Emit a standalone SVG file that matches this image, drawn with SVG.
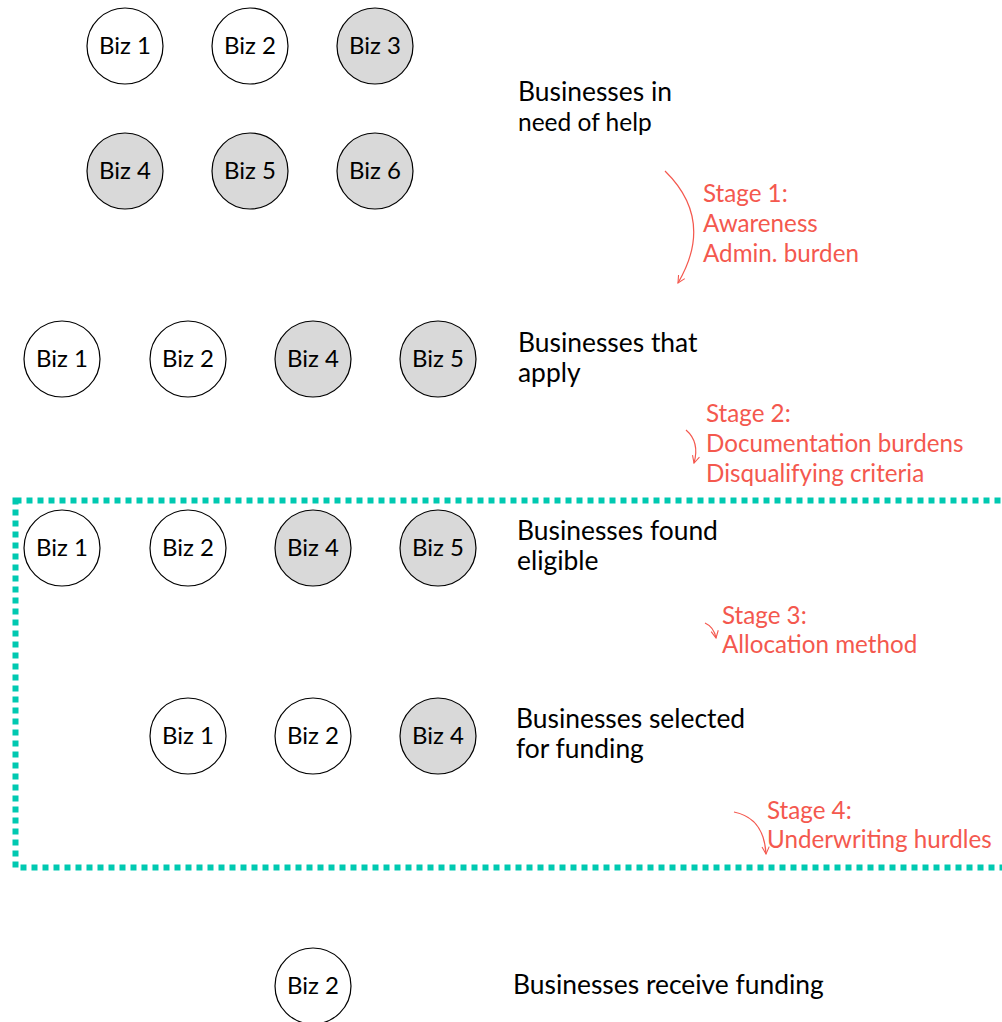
<svg xmlns="http://www.w3.org/2000/svg" width="1002" height="1022" viewBox="0 0 1002 1022">
<style>
.n circle{stroke:#000;stroke-width:1.2}
.w{fill:#fff}
.g{fill:#d9d9d9}
.n text{font-family:Lato,"Noto Sans",sans-serif;font-size:24px;fill:#000;text-anchor:middle}
.lbl{font-family:Lato,"Noto Sans",sans-serif;font-size:26.4px;fill:#000}
.st{font-family:Lato,"Noto Sans",sans-serif;font-size:24.2px;fill:#f4584e}
.arr{fill:none;stroke:#f4584e;stroke-width:1.2;marker-end:url(#ah)}
</style>
<defs>
<marker id="ah" viewBox="0 0 10 10" refX="9" refY="5" markerWidth="9" markerHeight="9" markerUnits="userSpaceOnUse" orient="auto">
<path d="M1,1 L9,5 L1,9" fill="none" stroke="#f4584e" stroke-width="1.2"/>
</marker>
</defs>
<rect width="1002" height="1022" fill="#fff"/>
<g id="box">
<rect x="15.5" y="500.5" width="1010" height="367" fill="none" stroke="#00c9b1" stroke-width="6" stroke-dasharray="6 5"/>
</g>
<g id="row1">
<g id="r1b1" class="n"><circle class="w" cx="125" cy="46" r="38"/><text x="125" y="54">Biz 1</text></g>
<g id="r1b2" class="n"><circle class="w" cx="250" cy="46" r="38"/><text x="250" y="54">Biz 2</text></g>
<g id="r1b3" class="n"><circle class="g" cx="375" cy="46" r="38"/><text x="375" y="54">Biz 3</text></g>
<g id="r1b4" class="n"><circle class="g" cx="125" cy="171" r="38"/><text x="125" y="179">Biz 4</text></g>
<g id="r1b5" class="n"><circle class="g" cx="250" cy="171" r="38"/><text x="250" y="179">Biz 5</text></g>
<g id="r1b6" class="n"><circle class="g" cx="375" cy="171" r="38"/><text x="375" y="179">Biz 6</text></g>
</g>
<g id="row2">
<g id="r2b1" class="n"><circle class="w" cx="62" cy="359" r="38"/><text x="62" y="367">Biz 1</text></g>
<g id="r2b2" class="n"><circle class="w" cx="188" cy="359" r="38"/><text x="188" y="367">Biz 2</text></g>
<g id="r2b4" class="n"><circle class="g" cx="313" cy="359" r="38"/><text x="313" y="367">Biz 4</text></g>
<g id="r2b5" class="n"><circle class="g" cx="438" cy="359" r="38"/><text x="438" y="367">Biz 5</text></g>
</g>
<g id="row3">
<g id="r3b1" class="n"><circle class="w" cx="62" cy="548" r="38"/><text x="62" y="556">Biz 1</text></g>
<g id="r3b2" class="n"><circle class="w" cx="188" cy="548" r="38"/><text x="188" y="556">Biz 2</text></g>
<g id="r3b4" class="n"><circle class="g" cx="313" cy="548" r="38"/><text x="313" y="556">Biz 4</text></g>
<g id="r3b5" class="n"><circle class="g" cx="438" cy="548" r="38"/><text x="438" y="556">Biz 5</text></g>
</g>
<g id="row4">
<g id="r4b1" class="n"><circle class="w" cx="188" cy="736" r="38"/><text x="188" y="744">Biz 1</text></g>
<g id="r4b2" class="n"><circle class="w" cx="313" cy="736" r="38"/><text x="313" y="744">Biz 2</text></g>
<g id="r4b4" class="n"><circle class="g" cx="438" cy="736" r="38"/><text x="438" y="744">Biz 4</text></g>
</g>
<g id="row5">
<g id="r5b2" class="n"><circle class="w" cx="313" cy="986" r="38"/><text x="313" y="994">Biz 2</text></g>
</g>
<g id="labels">
<text class="lbl" x="518" y="101">Businesses in</text>
<text class="lbl" x="518" y="131" style="font-size:24.5px">need of help</text>
<text class="lbl" x="518" y="352">Businesses that</text>
<text class="lbl" x="518" y="382">apply</text>
<text class="lbl" x="517" y="540">Businesses found</text>
<text class="lbl" x="517" y="570">eligible</text>
<text class="lbl" x="516" y="728">Businesses selected</text>
<text class="lbl" x="516" y="758">for funding</text>
<text class="lbl" x="513" y="994">Businesses receive funding</text>
</g>
<g id="stages">
<text class="st" x="703" y="202">Stage 1:</text>
<text class="st" x="703" y="232">Awareness</text>
<text class="st" x="703" y="262">Admin. burden</text>
<text class="st" x="706" y="422">Stage 2:</text>
<text class="st" x="706" y="452">Documentation burdens</text>
<text class="st" x="706" y="482">Disqualifying criteria</text>
<text class="st" x="722" y="624">Stage 3:</text>
<text class="st" x="722" y="653">Allocation method</text>
<text class="st" x="767" y="819">Stage 4:</text>
<text class="st" x="767" y="848">Underwriting hurdles</text>
</g>
<g id="connectors">
<path class="arr" d="M665,171 Q715,220 678,283"/>
<path class="arr" d="M686,430 Q700,442 694,463"/>
<path class="arr" d="M705,623 Q714,627 716,638"/>
<path class="arr" d="M734,812 Q764,818 766,854"/>
</g>
</svg>
